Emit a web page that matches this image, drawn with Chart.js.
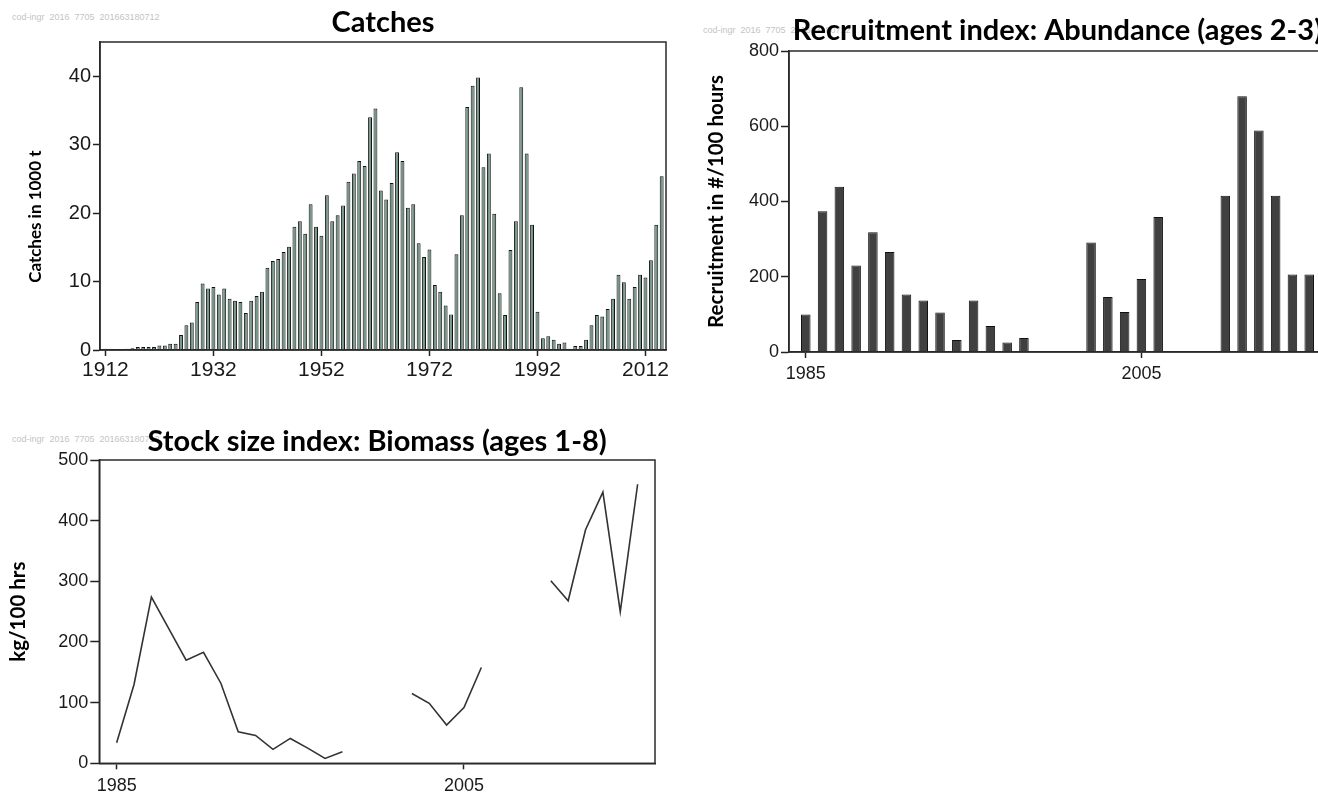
<!DOCTYPE html>
<html>
<head>
<meta charset="utf-8">
<script src="https://cdn.jsdelivr.net/npm/chart.js@4.4.1/dist/chart.umd.min.js"></script>
<style>
  html, body { margin: 0; padding: 0; background: #fff; width: 1318px; height: 794px; overflow: hidden; position: relative; }
  canvas { position: absolute; }
  .wm { position: absolute; font: 9px "Liberation Sans", Arial, sans-serif; color: #c4c4c4; white-space: pre; }
</style>
</head>
<body>
<div class="wm" style="left:12px;top:12px">cod-ingr  2016  7705  201663180712</div>
<div class="wm" style="left:703px;top:25px">cod-ingr  2016  7705  201663180712</div>
<div class="wm" style="left:12px;top:434px">cod-ingr  2016  7705  201663180712</div>

<canvas id="catches" width="690" height="392" style="left:0;top:0"></canvas>
<canvas id="recruit" width="660" height="400" style="left:690px;top:0"></canvas>
<canvas id="biomass" width="690" height="374" style="left:0;top:420px"></canvas>

<script>
// catches in 1000 t, one value per year starting 1912
var catchFirstYear = 1912;
var catchValues = [
    0.2, 0.2, 0.15, 0.15, 0.2, 0.25, 0.45, 0.45, 0.45, 0.45,     // 1912-1921
    0.65, 0.65, 0.9, 0.9, 2.2, 3.6, 4.0, 7.0, 9.7, 9.0,          // 1922-1931
    9.2, 8.1, 9.0, 7.5, 7.2, 7.0, 5.4, 7.2, 7.9, 8.5,            // 1932-1941
    12.0, 13.0, 13.3, 14.3, 15.1, 18.0, 18.8, 17.0, 21.3, 18.0,  // 1942-1951
    16.7, 22.6, 18.8, 19.7, 21.1, 24.6, 25.8, 27.6, 26.9, 34.0,  // 1952-1961
    35.3, 23.3, 22.0, 24.4, 28.9, 27.6, 20.8, 21.3, 15.6, 13.6,  // 1962-1971
    14.7, 9.5, 8.5, 6.5, 5.2, 14.0, 19.7, 35.5, 38.6, 39.8,      // 1972-1981
    26.7, 28.7, 19.9, 8.3, 5.1, 14.6, 18.8, 38.4, 28.7, 18.3,    // 1982-1991
    5.6, 1.7, 2.0, 1.5, 0.9, 1.1, 0.2, 0.6, 0.6, 1.5,            // 1992-2001
    3.6, 5.1, 4.9, 6.0, 7.5, 11.0, 9.9, 7.5, 9.2, 11.0,          // 2002-2011
    10.6, 13.1, 18.3, 25.4                                       // 2012-2015
];
var catchXTicks = [1912, 1932, 1952, 1972, 1992, 2012];
var catchYTicks = [0, 10, 20, 30, 40];

// survey years (gaps = no survey)
var surveyYears = [1985, 1986, 1987, 1988, 1989, 1990, 1991, 1992, 1993, 1994,
                   1995, 1996, 1997, 1998, 1999, 2000, 2001, 2002, 2003, 2004,
                   2005, 2006, 2007, 2008, 2009, 2010, 2011, 2012, 2013, 2014, 2015];
var recruitValues = [100, 374, 439, 230, 318, 266, 153, 137, 105, 32,
                     137, 69, 25, 37, null, null, null, 291, 146, 106,
                     194, 359, null, null, null, 415, 680, 589, 415, 206, 206];
var biomassValues = [34, 130, 274, 222, 170, 183, 132, 52, 46, 23,
                     41, 25, 8, 19, null, null, null, 115, 99, 63,
                     92, 158, null, null, null, 301, 268, 385, 447, 250, 460];
var surveyXTicks = [1985, 2005];
var recruitYTicks = [0, 200, 400, 600, 800];
var biomassYTicks = [0, 100, 200, 300, 400, 500];

var tickFont = 'Liberation Sans, Arial, sans-serif';
var titleFont = 'Lato, Calibri, sans-serif';

// box round the plot area
var framePlugin = {
    id: 'frame',
    afterDraw: function (chart) {
        var a = chart.chartArea, ctx = chart.ctx;
        ctx.save();
        ctx.strokeStyle = '#2a2a2a';
        ctx.lineWidth = 1.5;
        ctx.strokeRect(a.left, a.top, a.right - a.left, a.bottom - a.top);
        ctx.restore();
    }
};

function toPoints(years, values) {
    var pts = [];
    for (var i = 0; i < years.length; i++) {
        pts.push({x: years[i], y: values[i]});
    }
    return pts;
}

function xAxis(min, max, ticks, size, height, pad) {
    return {
        type: 'linear', min: min, max: max, offset: false,
        afterBuildTicks: function (s) { s.ticks = ticks.map(function (v) { return {value: v}; }); },
        afterFit: function (s) { s.height = height; },
        grid: {drawOnChartArea: false, drawTicks: true, tickLength: 6, tickColor: '#222', tickWidth: 1.5, offset: false},
        border: {display: true, color: '#2a2a2a', width: 1.5},
        ticks: {color: '#1a1a1a', font: {family: tickFont, size: size}, padding: pad, maxRotation: 0,
                callback: function (v) { return String(v); }}
    };
}

function yAxis(min, max, ticks, size, width, tl, label, labelSize, labelPad) {
    return {
        min: min, max: max,
        afterBuildTicks: function (s) { s.ticks = ticks.map(function (v) { return {value: v}; }); },
        afterFit: function (s) { s.width = width; },
        grid: {drawOnChartArea: false, drawTicks: true, tickLength: tl, tickColor: '#222', tickWidth: 1.5},
        border: {display: true, color: '#2a2a2a', width: 1.5},
        ticks: {color: '#1a1a1a', font: {family: tickFont, size: size}, padding: 2},
        title: {display: true, text: label, color: '#000',
                font: {family: titleFont, size: labelSize, weight: 'bold'},
                padding: {top: labelPad, bottom: 0}}
    };
}

function titleOpts(text, top, bottom) {
    return {display: true, text: text, color: '#000', fullSize: false,
            font: {family: titleFont, size: 29, weight: 'bold'},
            padding: {top: top, bottom: bottom}};
}

var catchYears = catchValues.map(function (v, i) { return catchFirstYear + i; });

new Chart(document.getElementById('catches'), {
    type: 'bar',
    data: {
        datasets: [{
            data: toPoints(catchYears, catchValues),
            backgroundColor: '#739486',
            borderColor: '#111',
            borderWidth: 1,
            categoryPercentage: 0.8,
            barPercentage: 0.9
        }]
    },
    options: {
        responsive: false,
        animation: false,
        layout: {padding: {left: 0, right: 24, top: 0, bottom: 0}},
        plugins: {
            legend: {display: false},
            tooltip: {enabled: false},
            title: titleOpts('Catches', 5, 2.2)
        },
        scales: {
            x: xAxis(1911, 2015.8, catchXTicks, 21, 42, 2),
            y: yAxis(0, 45, catchYTicks, 20, 100, 7, 'Catches in 1000 t          ', 17, 25)
        }
    },
    plugins: [framePlugin]
});

new Chart(document.getElementById('recruit'), {
    type: 'bar',
    data: {
        datasets: [{
            data: toPoints(surveyYears, recruitValues),
            backgroundColor: '#404040',
            borderColor: '#111',
            borderWidth: 1,
            categoryPercentage: 0.8,
            barPercentage: 0.71
        }]
    },
    options: {
        responsive: false,
        animation: false,
        layout: {padding: {left: 0, right: 24, top: 0, bottom: 0}},
        plugins: {
            legend: {display: false},
            tooltip: {enabled: false},
            title: titleOpts('Recruitment index: Abundance (ages 2-3)', 13, 3.2)
        },
        scales: {
            x: xAxis(1984, 2016, surveyXTicks, 18, 48, 5),
            y: yAxis(0, 800, recruitYTicks, 18, 99, 8, 'Recruitment in #/100 hours', 20.5, 14)
        }
    },
    plugins: [framePlugin]
});

new Chart(document.getElementById('biomass'), {
    type: 'line',
    data: {
        datasets: [{
            data: toPoints(surveyYears, biomassValues),
            borderColor: '#333',
            borderWidth: 1.6,
            pointRadius: 0,
            fill: false,
            tension: 0,
            spanGaps: false
        }]
    },
    options: {
        responsive: false,
        animation: false,
        layout: {padding: {left: 0, right: 35, top: 0, bottom: 0}},
        plugins: {
            legend: {display: false},
            tooltip: {enabled: false},
            title: titleOpts('Stock size index: Biomass (ages 1-8)', 4, 1.2)
        },
        scales: {
            x: xAxis(1984, 2016, surveyXTicks, 18, 30.7, 6),
            y: yAxis(0, 500, biomassYTicks, 18, 99.3, 9, 'kg/100 hrs', 20.5, 6)
        }
    },
    plugins: [framePlugin]
});
</script>
</body>
</html>
